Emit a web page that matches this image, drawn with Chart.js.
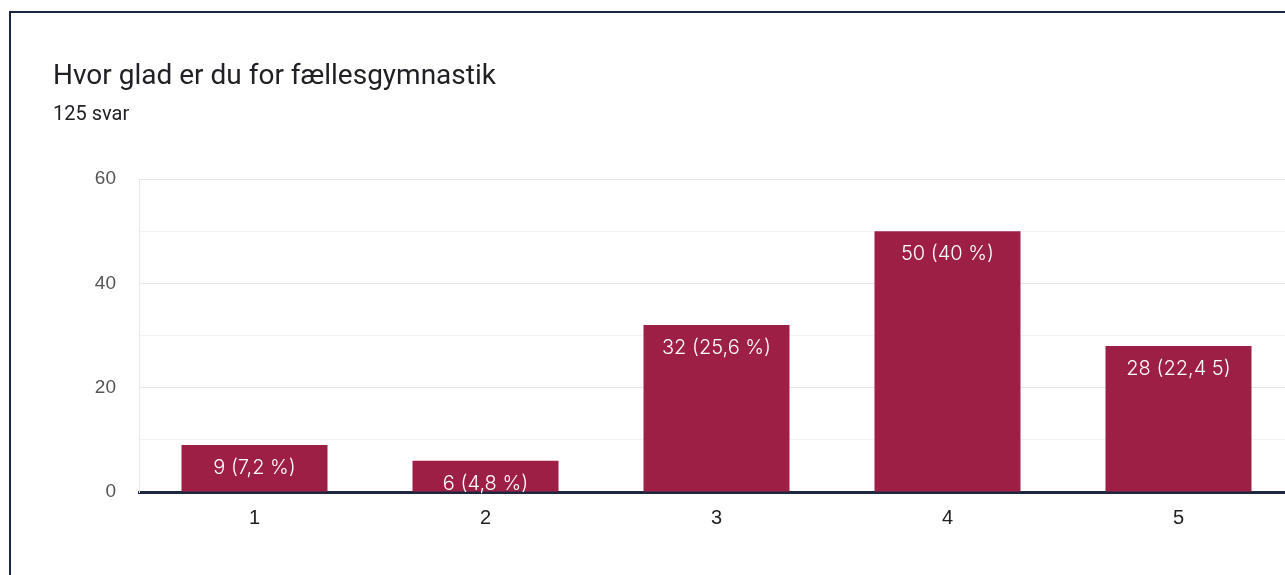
<!DOCTYPE html>
<html>
<head>
<meta charset="utf-8">
<script src="https://cdn.jsdelivr.net/npm/chart.js@4/dist/chart.umd.min.js"></script>
<style>
  html, body { margin: 0; padding: 0; background: #fff; overflow: hidden; }
  .card {
    position: absolute; left: 9px; top: 11px; width: 1400px; height: 700px;
    border-left: 2px solid #1c2541; border-top: 2px solid #1c2541;
  }
  #surveyChart { position: absolute; left: 0; top: 0; }
</style>
</head>
<body>
<div class="card"></div>
<canvas id="surveyChart" width="1310" height="575"></canvas>
<script>
const questionTitle = 'Hvor glad er du for fællesgymnastik';
const responseCount = '125 svar';
const answerOptions = ['1', '2', '3', '4', '5'];
const answerCounts = [9, 6, 32, 50, 28];
const barLabels = ['9 (7,2 %)', '6 (4,8 %)', '32 (25,6 %)', '50 (40 %)', '28 (22,4 5)'];

const barColor = '#9e1f46';

// white count/percentage text inside each bar
const barLabelPlugin = {
  id: 'barLabels',
  afterDatasetsDraw(chart) {
    const ctx = chart.ctx;
    const meta = chart.getDatasetMeta(0);
    ctx.save();
    ctx.fillStyle = '#ffffff';
    ctx.font = '300 20px Inter, "Open Sans", sans-serif';
    ctx.textAlign = 'center';
    ctx.textBaseline = 'middle';
    meta.data.forEach(function(bar, i) {
      ctx.fillText(barLabels[i], bar.x, bar.y + 23);
    });
    ctx.restore();
  }
};

document.addEventListener('DOMContentLoaded', function() {
  const ctx = document.getElementById('surveyChart').getContext('2d');

  new Chart(ctx, {
    type: 'bar',
    data: {
      labels: answerOptions,
      datasets: [{
        data: answerCounts,
        backgroundColor: barColor,
        borderWidth: 0,
        categoryPercentage: 1,
        barPercentage: 0.632
      }]
    },
    options: {
      responsive: false,
      animation: false,
      layout: {
        padding: { left: 53, right: 16, top: 48, bottom: 31 }
      },
      scales: {
        x: {
          grid: { display: false, drawTicks: false },
          border: { color: '#1e2640', width: 3 },
          ticks: {
            color: '#222222',
            padding: 14,
            font: { family: 'Arial, "Liberation Sans", sans-serif', size: 20 }
          }
        },
        y: {
          min: 0,
          max: 60,
          afterFit: function(scale) { scale.width = 86; },
          ticks: {
            stepSize: 10,
            color: '#555555',
            padding: 23,
            font: { family: 'Arial, "Liberation Sans", sans-serif', size: 19 },
            callback: function(value) {
              return value % 20 === 0 ? value : '';
            }
          },
          grid: {
            drawTicks: false,
            color: function(c) {
              return c.tick && c.tick.value % 20 === 0 ? '#e6e6e6' : '#f2f2f2';
            }
          },
          border: { color: '#e8e8e8', width: 1 }
        }
      },
      plugins: {
        legend: { display: false },
        tooltip: { enabled: false },
        title: {
          display: true,
          text: questionTitle,
          align: 'start',
          color: '#202124',
          font: { family: 'Roboto', size: 28, weight: 'normal' },
          padding: { top: 12, bottom: 0 }
        },
        subtitle: {
          display: true,
          text: responseCount,
          align: 'start',
          color: '#202124',
          font: { family: 'Roboto', size: 20, weight: 'normal' },
          padding: { top: 9, bottom: 52.4 }
        }
      }
    },
    plugins: [barLabelPlugin]
  });
});
</script>
</body>
</html>
